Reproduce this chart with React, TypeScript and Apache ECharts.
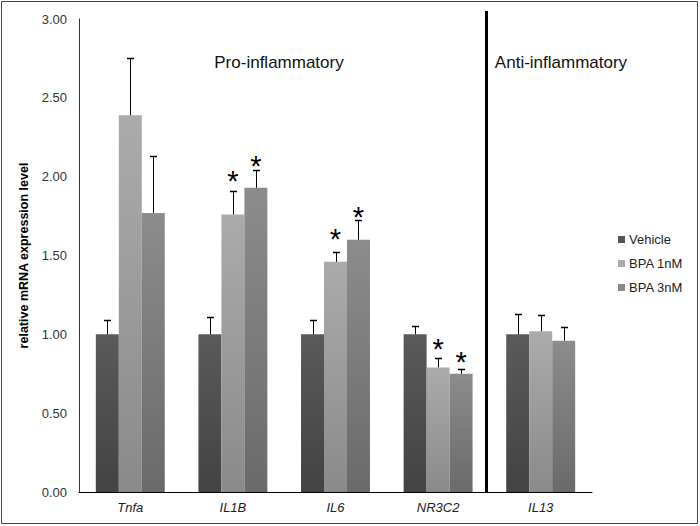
import React, { useEffect, useRef } from "react";
import * as echarts from "echarts";

const categories = ["Tnfa", "IL1B", "IL6", "NR3C2", "IL13"];
const seriesNames = ["Vehicle", "BPA 1nM", "BPA 3nM"];
const vehicle = [1.0, 1.0, 1.0, 1.0, 1.0];
const vehicleErr = [0.09, 0.11, 0.09, 0.05, 0.13];
const bpa1 = [2.39, 1.76, 1.46, 0.79, 1.02];
const bpa1Err = [0.36, 0.15, 0.065, 0.06, 0.1];
const bpa3 = [1.77, 1.93, 1.6, 0.75, 0.96];
const bpa3Err = [0.36, 0.11, 0.125, 0.03, 0.085];
// asterisk heights (value units) for significant groups; null = none
const bpa1Star = [null, 2.01, 1.645, 0.945, null];
const bpa3Star = [null, 2.11, 1.785, 0.865, null];
const yTicks = [0, 0.5, 1, 1.5, 2, 2.5, 3];
const groupTitles = ["Pro-inflammatory", "Anti-inflammatory"];

const BAR_FRAC = 0.224;
const FONT = "'Liberation Sans', Arial, sans-serif";

const grad = (top: string, bottom: string) =>
  new echarts.graphic.LinearGradient(0, 0, 0, 1, [
    { offset: 0, color: top },
    { offset: 1, color: bottom },
  ]);

export default function App() {
  const ref = useRef<HTMLDivElement>(null);
  useEffect(() => {
    document.body.style.margin = "0";
    if (!ref.current) return;
    const chart = echarts.init(ref.current, null, { renderer: "svg" });
    const values = [vehicle, bpa1, bpa3];
    const errs = [vehicleErr, bpa1Err, bpa3Err];
    const stars = [[null, null, null, null, null], bpa1Star, bpa3Star];
    const colors = [
      ["#5a5a5a", "#434343"],
      ["#ababab", "#8a8a8a"],
      ["#8c8c8c", "#6a6a6a"],
    ];
    const errData: number[][] = [];
    const starData: number[][] = [];
    values.forEach((vals, s) => {
      vals.forEach((v, c) => {
        errData.push([c, s, v + errs[s][c], v]);
        const st = stars[s][c];
        if (st != null) starData.push([c, s, st]);
      });
    });
    const bars = values.map((vals, s) => ({
      name: seriesNames[s],
      type: "bar",
      data: vals,
      barWidth: BAR_FRAC * 100 + "%",
      barGap: "0%",
      itemStyle: { color: grad(colors[s][0], colors[s][1]) },
      z: 2,
    }));
    chart.setOption({
      animation: false,
      textStyle: { fontFamily: FONT },
      grid: { left: 79, right: 108, top: 19, bottom: 34 },
      legend: {
        data: seriesNames.map((n, i) => ({
          name: n,
          itemStyle: { color: ["#555555", "#aaaaaa", "#888888"][i] },
        })),
        orient: "vertical",
        left: 613,
        top: 228,
        icon: "rect",
        itemWidth: 7,
        itemHeight: 7,
        itemGap: 11,
        textStyle: { fontSize: 13, color: "#222", fontFamily: FONT, padding: [0, 0, 0, -1] },
      },
      xAxis: {
        type: "category",
        data: categories,
        axisLine: { lineStyle: { color: "#000", width: 1 } },
        axisTick: { show: false },
        axisLabel: {
          fontSize: 13,
          fontStyle: "italic",
          color: "#222",
          margin: 9,
        },
      },
      yAxis: {
        type: "value",
        min: yTicks[0],
        max: yTicks[yTicks.length - 1],
        interval: 0.5,
        name: "relative mRNA expression level",
        nameLocation: "middle",
        nameGap: 37,
        nameTextStyle: { fontSize: 12.5, fontWeight: "bold", color: "#000" },
        axisLine: { show: true, lineStyle: { color: "#333", width: 1 } },
        axisTick: { show: false },
        splitLine: { show: false },
        axisLabel: {
          fontSize: 13,
          color: "#333",
          margin: 12,
          formatter: (v: number) => v.toFixed(2),
        },
      },
      series: [
        ...bars,
        {
          type: "custom",
          name: "errors",
          z: 3,
          data: errData,
          encode: { x: 0, y: 2 },
          renderItem: (params: any, api: any) => {
            const c = api.value(0);
            const s = api.value(1);
            const band = api.size([1, 0])[0];
            const cx = Math.round(api.coord([c, 0])[0] + (s - 1) * band * BAR_FRAC) + 0.5;
            const yTop = Math.round(api.coord([c, api.value(2)])[1]) + 0.5;
            const yBase = api.coord([c, api.value(3)])[1];
            return {
              type: "group",
              children: [
                {
                  type: "line",
                  shape: { x1: cx, y1: yBase, x2: cx, y2: yTop },
                  style: { stroke: "#000", lineWidth: 1 },
                },
                {
                  type: "line",
                  shape: { x1: cx - 3.5, y1: yTop, x2: cx + 3.5, y2: yTop },
                  style: { stroke: "#000", lineWidth: 1.5 },
                },
              ],
            };
          },
        },
        {
          type: "custom",
          name: "stars",
          z: 4,
          data: starData,
          encode: { x: 0, y: 2 },
          renderItem: (params: any, api: any) => {
            const c = api.value(0);
            const s = api.value(1);
            const band = api.size([1, 0])[0];
            const cx = api.coord([c, 0])[0] + (s - 1) * band * BAR_FRAC;
            const y = api.coord([c, api.value(2)])[1];
            const fs = 29;
            return {
              type: "text",
              style: {
                text: "*",
                x: cx,
                y: y + 0.22 * fs,
                fontSize: fs,
                fontFamily: FONT,
                fill: "#000",
                align: "center",
                verticalAlign: "middle",
              },
            };
          },
        },
      ],
      graphic: [
        {
          type: "rect",
          shape: { x: 1.5, y: 1.5, width: 696, height: 522 },
          style: { fill: "none", stroke: "#444", lineWidth: 1 },
          silent: true,
        },
        {
          type: "line",
          shape: { x1: 486.5, y1: 11, x2: 486.5, y2: 492 },
          style: { stroke: "#000", lineWidth: 3 },
          silent: true,
        },
        {
          type: "text",
          style: {
            text: groupTitles[0],
            x: 279,
            y: 62,
            fontSize: 17,
            fontFamily: FONT,
            fill: "#111",
            align: "center",
            verticalAlign: "middle",
          },
        },
        {
          type: "text",
          style: {
            text: groupTitles[1],
            x: 561,
            y: 62,
            fontSize: 17,
            fontFamily: FONT,
            fill: "#111",
            align: "center",
            verticalAlign: "middle",
          },
        },
      ],
    });
    return () => chart.dispose();
  }, []);
  return <div ref={ref} style={{ width: 700, height: 526 }} />;
}
